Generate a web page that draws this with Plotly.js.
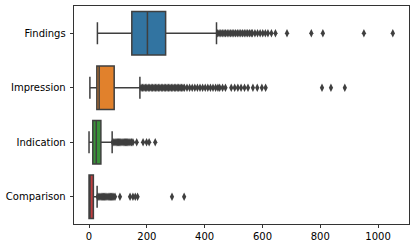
<!DOCTYPE html>
<html>
<head>
<meta charset="utf-8">
<script src="https://cdn.plot.ly/plotly-3.0.1.min.js"></script>
<style>html,body{margin:0;padding:0;background:#fff;}#chart{width:415px;height:248px;}</style>
</head>
<body>
<div id="chart"></div>
<script>
// Categories (top to bottom)
const categories = ["Findings", "Impression", "Indication", "Comparison"];
const boxColors = ["#3274a1", "#e1812c", "#3a923a", "#c03d3e"];

// Box statistics
const lowerWhisker = [29, 3, 0, 0];
const q1Values     = [148, 27, 13, 0];
const medianValues = [202, 35, 25, 3];
const q3Values     = [265, 87, 41, 15];
const upperWhisker = [441, 176, 80, 28];

// Outliers (fliers)
const findingsOutliers = [445, 450, 456, 461, 467, 472, 478, 484, 490, 495, 501, 507, 513, 519, 525,
  531, 537, 543, 549, 555, 561, 565, 574, 583, 592, 601, 610, 619, 631, 645, 685, 769, 809, 951, 1051];
const impressionOutliers = [180, 185, 190, 195, 200, 205, 210, 215, 220, 225, 230, 235, 240, 245, 250,
  255, 260, 265, 270, 275, 280, 285, 290, 295, 300, 305, 310, 315, 320, 325, 330, 339, 348, 357, 366,
  375, 384, 393, 402, 411, 420, 429, 438, 446, 452, 462, 472, 492, 504, 515, 526, 538, 550, 567, 582,
  598, 611, 806, 837, 885];
const indicationOutliers = [82, 86, 90, 94, 98, 102, 106, 110, 114, 118, 122, 126, 130, 134, 138, 142,
  147, 152, 165, 187, 199, 208, 229];
const comparisonOutliers = [30, 34, 38, 42, 46, 50, 54, 58, 62, 66, 70, 74, 78, 82, 86, 90, 107,
  142, 152, 160, 168, 287, 329];
const outliers = [findingsOutliers, impressionOutliers, indicationOutliers, comparisonOutliers];

// Axis ticks
const xTickValues = [0, 200, 400, 600, 800, 1000];
const xTickLabels = ["0", "200", "400", "600", "800", "1000"];

const lineGray = "#3f3f3f";
const traces = [];
categories.forEach((c, i) => {
  traces.push({
    type: "box",
    orientation: "h",
    y: [c],
    q1: [q1Values[i]],
    median: [medianValues[i]],
    q3: [q3Values[i]],
    lowerfence: [lowerWhisker[i]],
    upperfence: [upperWhisker[i]],
    boxpoints: false,
    fillcolor: boxColors[i],
    line: {color: lineGray, width: 1.5},
    whiskerwidth: 0.5,
    width: 0.8,
    hoverinfo: "skip",
    showlegend: false
  });
});
categories.forEach((c, i) => {
  traces.push({
    type: "scatter",
    mode: "markers",
    x: outliers[i],
    y: outliers[i].map(() => c),
    marker: {symbol: "diamond-tall", size: 6, color: lineGray, line: {width: 0}},
    hoverinfo: "skip",
    showlegend: false
  });
});

const layout = {
  width: 415,
  height: 248,
  margin: {l: 74, r: 6, t: 6, b: 24, pad: 0},
  paper_bgcolor: "#ffffff",
  plot_bgcolor: "#ffffff",
  font: {family: "DejaVu Sans", size: 10, color: "#000000"},
  showlegend: false,
  boxmode: "overlay",
  xaxis: {
    range: [-52, 1107],
    tickvals: xTickValues,
    ticktext: xTickLabels,
    ticks: "outside",
    ticklen: 3.5,
    tickwidth: 0.8,
    tickcolor: "#000",
    showline: true,
    linecolor: "#000",
    linewidth: 0.8,
    mirror: true,
    showgrid: false,
    zeroline: false
  },
  yaxis: {
    type: "category",
    categoryorder: "array",
    categoryarray: categories,
    range: [3.5, -0.5],
    ticks: "outside",
    ticklen: 3.5,
    tickwidth: 0.8,
    tickcolor: "#000",
    showline: true,
    linecolor: "#000",
    linewidth: 0.8,
    mirror: true,
    showgrid: false,
    zeroline: false,
    ticklabelstandoff: 2
  }
};

Plotly.newPlot("chart", traces, layout, {displayModeBar: false, staticPlot: true});
</script>
</body>
</html>
